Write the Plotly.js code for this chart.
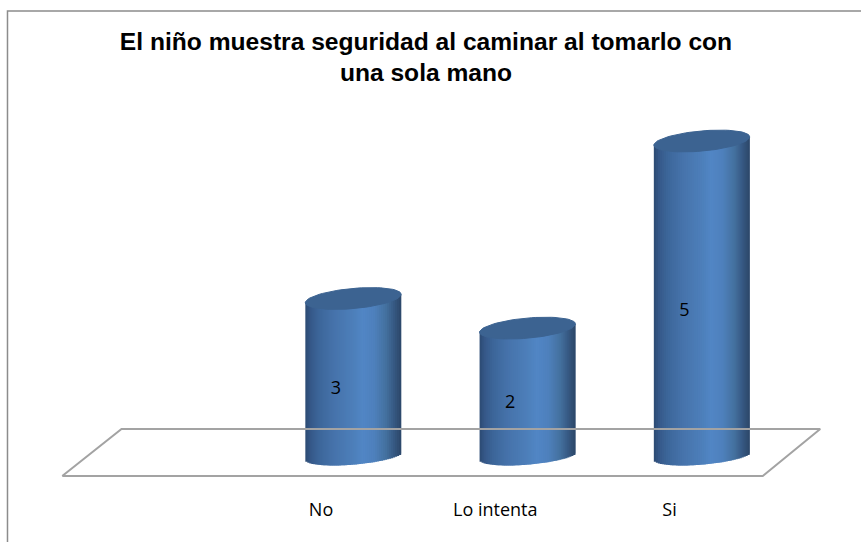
<!DOCTYPE html>
<html><head><meta charset="utf-8">
<script src="https://cdn.plot.ly/plotly-3.0.1.min.js"></script>
<style>html,body{margin:0;padding:0;background:#fff}#c{width:861px;height:542px}</style>
</head><body><div id="c"></div>
<script>
// Data
const categories = ['No', 'Lo intenta', 'Si'];
const slots = [1, 2, 3];               // first slot (0) of the source chart is empty
const labels = [3, 2, 5];              // printed data labels
const drawnHeights = [2.5, 2.03, 5];   // heights as drawn in the picture (axis units)
const labelHeights = [1.05, 0.83, 2.3];
const titleText = '<b>El niño muestra seguridad al caminar al tomarlo con<br>una sola mano</b>';

// Cylinder look
const shade = [[0,'#2c4a72'],[0.06,'#36598a'],[0.14,'#3c6699'],[0.3,'#4673ab'],[0.5,'#4d7fba'],[0.6,'#5186c5'],[0.72,'#4e80bc'],[0.84,'#44719f'],[0.92,'#375a84'],[1,'#2b4768']];
const topColor = '#3c6391';
const bands = 48;
const halfWidth = 0.275, minorBottom = 0.135, minorTop = 0.16, tilt = 0.066;

// Axis scale matching the picture
const pxX = 174.25, pxY = 63, x0px = 179, y0px = 456, plotBottom = 490;
const xRange = [-x0px / pxX, (861 - x0px) / pxX];
const yRange = [-(plotBottom - y0px) / pxY, y0px / pxY];

function hex(c){return [1,3,5].map(i=>parseInt(c.substr(i,2),16));}
function shadeAt(f){
  for(let i=1;i<shade.length;i++){
    if(f<=shade[i][0]){
      const a=shade[i-1],b=shade[i],k=(f-a[0])/(b[0]-a[0]);
      const A=hex(a[1]),B=hex(b[1]);
      return 'rgb('+A.map((v,j)=>Math.round(v+(B[j]-v)*k)).join(',')+')';
    }
  }
  return shade[shade.length-1][1];
}

const traces = [];

// Floor of the 3-D plot, behind the columns
const floorX = [-0.67, 3.35, 3.68, -0.33, -0.67];
const floorY = [-0.317, -0.317, 0.429, 0.429, -0.317];
traces.push({type:'scatter',mode:'lines',x:floorX,y:floorY,line:{color:'#a3a3a3',width:2},hoverinfo:'skip',showlegend:false,cliponaxis:false});

// Columns: one bar trace per category, split into overlapping shaded strips
slots.forEach((s,i)=>{
  const xs=[],bases=[],ys=[],cols=[],ws=[];
  const step=2*halfWidth/bands;
  for(let k=0;k<bands;k++){
    const f=(k+0.5)/bands,t=2*f-1,curve=minorBottom*Math.sqrt(Math.max(0,1-t*t));
    const low=tilt*t-curve;
    const high=drawnHeights[i]+tilt*t;
    const l=s-halfWidth+k*step,r=Math.min(l+2*step,s+halfWidth);
    xs.push((l+r)/2);bases.push(low);ys.push(high-low);cols.push(shadeAt(f));ws.push(r-l);
  }
  traces.push({type:'bar',x:xs,y:ys,base:bases,width:ws,marker:{color:cols,line:{width:0}},hoverinfo:'skip',showlegend:false});
});

// Column tops
slots.forEach((s,i)=>{
  const ex=[],ey=[];
  for(let a=0;a<=72;a++){
    const th=a/72*2*Math.PI,t=Math.cos(th);
    ex.push(s+t*halfWidth);
    ey.push(drawnHeights[i]+tilt*t+minorTop*Math.sin(th));
  }
  traces.push({type:'scatter',mode:'lines',x:ex,y:ey,fill:'toself',fillcolor:topColor,line:{color:topColor,width:1},hoverinfo:'skip',showlegend:false});
});

// Data labels
traces.push({type:'scatter',mode:'text',x:slots.map(s=>s-0.1),y:labelHeights,text:labels.map(String),
  textposition:'middle center',textfont:{family:'"Open Sans", sans-serif',size:18,color:'#000'},hoverinfo:'skip',showlegend:false});

const layout = {
  width:861,height:542,
  margin:{l:0,r:0,t:0,b:542-plotBottom,pad:0},
  paper_bgcolor:'#fff',plot_bgcolor:'rgba(0,0,0,0)',
  barmode:'overlay',showlegend:false,
  title:{text:titleText,font:{family:'"Liberation Sans", Arial, sans-serif',size:24.6,color:'#000'},x:426/861,xanchor:'center',y:1-49.5/542,yanchor:'top'},
  xaxis:{range:xRange,tickmode:'array',tickvals:slots.map(s=>s-0.185),ticktext:categories,
    showgrid:false,zeroline:false,showline:false,ticks:'',ticklabelstandoff:7,tickfont:{family:'"Open Sans", sans-serif',size:18,color:'#000'}},
  yaxis:{range:yRange,showgrid:false,zeroline:false,showline:false,showticklabels:false,ticks:''},
  shapes:[{type:'path',xref:'paper',yref:'paper',path:'M 0.0087 -0.11 L 0.0087 0.9776 L 1 0.9776',line:{color:'#8c8c8c',width:1.5}}]
};
Plotly.newPlot('c',traces,layout,{staticPlot:true,displayModeBar:false});
</script></body></html>
